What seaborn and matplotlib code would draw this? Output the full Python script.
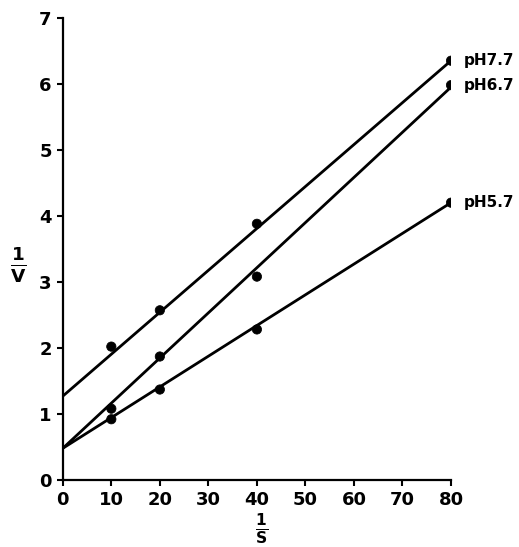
import matplotlib
matplotlib.use("Agg")
import matplotlib.pyplot as plt
import seaborn as sns
import pandas as pd

# measured points (1/S, 1/V)
inv_s = [10, 20, 40, 80]
ph77_pts = [2.02, 2.57, 3.88, 6.35]
ph67_pts = [1.08, 1.87, 3.08, 5.98]
ph57_pts = [0.92, 1.37, 2.28, 4.2]

# drawn fit lines: value at 1/S = 0 and at 1/S = 80
line_x = [0, 80]
ph77_line = [1.27, 6.35]
ph67_line = [0.48, 5.95]
ph57_line = [0.48, 4.2]

labels = ["pH7.7", "pH6.7", "pH5.7"]

pts = pd.DataFrame({
    "x": inv_s * 3,
    "y": ph77_pts + ph67_pts + ph57_pts,
    "ph": [l for l in labels for _ in inv_s],
})
lines = pd.DataFrame({
    "x": line_x * 3,
    "y": ph77_line + ph67_line + ph57_line,
    "ph": [l for l in labels for _ in line_x],
})

sns.set_style("ticks")
plt.rcParams["font.family"] = ["DejaVu Sans"]
plt.rcParams["text.color"] = "black"

fig = plt.figure(figsize=(5.19, 5.47), dpi=100)
ax = fig.add_axes([0.121, 0.1225, 0.748, 0.845])

pal = {l: "black" for l in labels}
sns.lineplot(data=lines, x="x", y="y", hue="ph", palette=pal, lw=2.0,
             legend=False, ax=ax)
sns.scatterplot(data=pts, x="x", y="y", hue="ph", palette=pal, s=45,
                edgecolor="black", legend=False, ax=ax, zorder=3)

ax.set_xlim(0, 80)
ax.set_ylim(0, 7)
ax.set_xticks(range(0, 81, 10))
ax.set_yticks(range(0, 8))
ax.set_xlabel("")
ax.set_ylabel("")
for s in ["top", "right"]:
    ax.spines[s].set_visible(False)
for s in ["left", "bottom"]:
    ax.spines[s].set_linewidth(1.6)
    ax.spines[s].set_color("black")
ax.tick_params(direction="out", length=4, width=1.5, colors="black",
               labelsize=13, pad=4)
for t in ax.get_xticklabels() + ax.get_yticklabels():
    t.set_fontweight("bold")
ax.margins(0)

for lab, yv in zip(labels, [ph77_pts[-1], ph67_pts[-1], ph57_pts[-1]]):
    ax.annotate(lab, (80, yv), xytext=(9, 0), textcoords="offset points",
                va="center", ha="left", fontsize=11, fontweight="bold",
                color="black", annotation_clip=False)

fig.text(0.035, 0.515, r"$\mathbf{\frac{1}{V}}$", fontsize=19,
         ha="center", va="center", color="black")
fig.text(0.505, 0.033, r"$\mathbf{\frac{1}{S}}$", fontsize=16,
         ha="center", va="center", color="black")

fig.savefig("out.png", dpi=100, facecolor="white")
